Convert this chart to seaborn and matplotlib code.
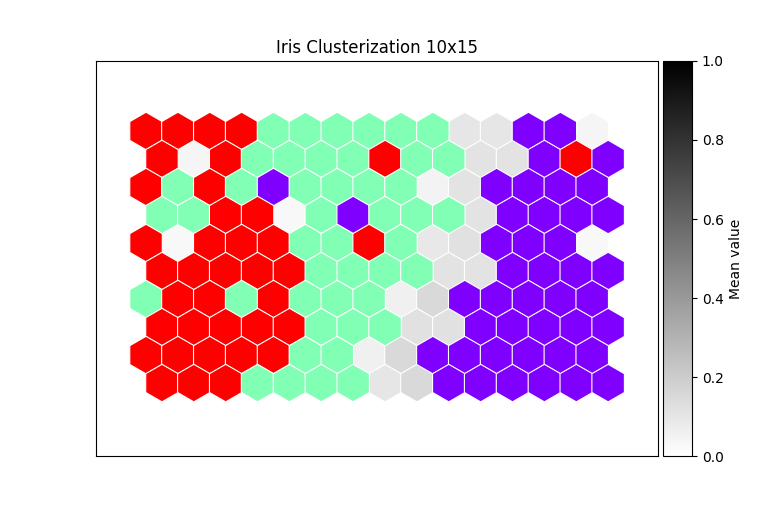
import matplotlib
matplotlib.use("Agg")
import matplotlib.pyplot as plt
import numpy as np
import pandas as pd
import seaborn as sns

# SOM grid 10x15, rows listed top to bottom
# R / G / P = cluster of the winning node, '.' = node without a class (shown by mean value)
cluster_rows = [
    "RRRRGGGGGG..PP.",
    "R.RGGGGRGG..PRP",
    "RGRGPGGGG..PPPP",
    "GGRR.GPGGG.PPPP",
    "R.RRRGGRG..PPP.",
    "RRRRRGGGG..PPPP",
    "GRRGRGGG..PPPPP",
    "RRRRRGGG..PPPPP",
    "RRRRRGG..PPPPPP",
    "RRRGGGG..PPPPPP",
]

# mean values of the empty nodes, in reading order of the '.' cells
empty_values = [
    0.10, 0.10, 0.04,
    0.04, 0.11, 0.11,
    0.05, 0.11,
    0.03, 0.11,
    0.03, 0.09, 0.12, 0.03,
    0.11, 0.11,
    0.06, 0.15,
    0.12, 0.12,
    0.06, 0.15,
    0.10, 0.15,
]

cluster_colors = {
    "P": plt.cm.rainbow(0.0),
    "G": plt.cm.rainbow(0.5),
    "R": plt.cm.rainbow(1.0),
}

n_rows = len(cluster_rows)
records = []
k = 0
for r, line in enumerate(cluster_rows):
    i = n_rows - 1 - r  # row index counted from the bottom
    for c, code in enumerate(line):
        x = c + (0.5 if i % 2 == 0 else 0.0)
        y = i * np.sqrt(3) / 2
        if code == ".":
            records.append((x, y, code, empty_values[k]))
            k += 1
        else:
            records.append((x, y, code, np.nan))
df = pd.DataFrame(records, columns=["x", "y", "cluster", "value"])

fig = plt.figure(figsize=(7.68, 5.12), dpi=100)
ax = fig.add_axes([0.125, 0.109, 0.732, 0.772])
cax = fig.add_axes([0.863, 0.109, 0.038, 0.772])

hex_size = 730
sns.scatterplot(data=df[df.cluster == "."], x="x", y="y", hue="value",
                palette="gray_r", hue_norm=(0, 1), marker="h", s=hex_size,
                edgecolor="white", linewidth=0.8, legend=False, ax=ax)
sns.scatterplot(data=df[df.cluster != "."], x="x", y="y", hue="cluster",
                palette=cluster_colors, marker="h", s=hex_size,
                edgecolor="white", linewidth=0.8, legend=False, ax=ax)

ax.set_xlim(-1.57, 16.07)
ax.set_ylim(-2.26, 9.96)
ax.set_xticks([])
ax.set_yticks([])
ax.set_xlabel("")
ax.set_ylabel("")
ax.set_title("Iris Clusterization 10x15")

sm = plt.cm.ScalarMappable(cmap="gray_r", norm=plt.Normalize(0, 1))
cb = fig.colorbar(sm, cax=cax)
cb.set_label("Mean value")

fig.savefig("out.png", dpi=100)
